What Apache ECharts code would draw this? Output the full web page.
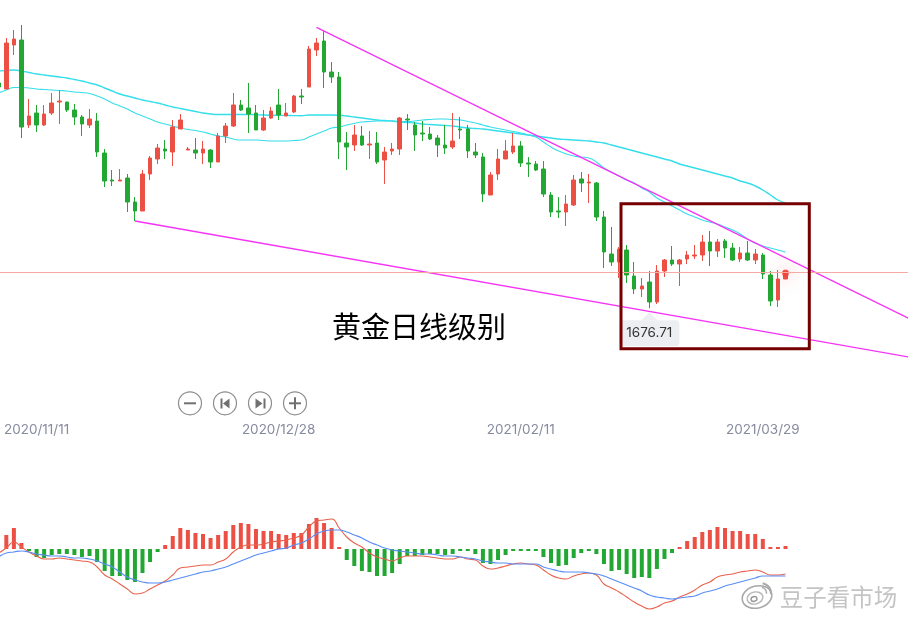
<!DOCTYPE html>
<html><head><meta charset="utf-8">
<style>html,body{margin:0;padding:0;background:#fff}#c{width:908px;height:617px}</style>
<script src="https://cdn.jsdelivr.net/npm/echarts@6/dist/echarts.min.js"></script>
</head><body><div id="c"></div>
<script>
const opens=[1902,1896,1940,1945,1860,1872,1860,1872,1883,1883,1875,1868,1860,1864,1832,1805,1804,1807,1783,1774,1811,1826,1836,1833,1856,1835,1835,1832,1835,1823,1849,1859,1880,1877,1872,1855,1867,1880,1869,1873,1889,1898,1935,1944,1913,1908,1842,1840,1849,1840,1842,1825,1834,1836,1866,1860,1852,1851,1847,1840,1838,1856,1856,1833,1828,1790,1811,1826,1833,1839,1822,1821,1816,1790,1774,1773,1780,1806,1802,1802,1768,1731,1723,1735,1709,1696,1703,1683,1714,1725,1721,1726,1729,1730,1743,1734,1744,1737,1726,1732,1725,1730,1710,1685,1706];
const closes=[1898,1942,1946,1858,1869,1860,1871,1882,1884,1875,1868,1861,1866,1833,1804,1804,1805,1783,1774,1811,1827,1837,1834,1858,1865,1836,1832,1836,1823,1849,1859,1880,1875,1871,1855,1867,1874,1870,1872,1889,1888,1936,1942,1913,1908,1843,1838,1850,1840,1841,1823,1833,1836,1867,1865,1850,1851,1846,1840,1837,1844,1855,1834,1830,1791,1810,1826,1834,1839,1822,1821,1815,1791,1773,1773,1781,1805,1802,1803,1768,1733,1723,1736,1710,1696,1699,1683,1714,1725,1721,1725,1730,1730,1743,1734,1743,1737,1725,1732,1725,1731,1711,1684,1706,1714];
const lows=[1895,1896,1930,1847,1857,1853,1859,1870,1861,1873,1860,1849,1857,1828,1798,1799,1804,1773,1764,1774,1805,1821,1826,1819,1856,1835,1826,1821,1817,1823,1842,1858,1874,1852,1855,1854,1866,1865,1869,1872,1881,1898,1929,1897,1902,1826,1815,1834,1839,1826,1821,1801,1830,1830,1855,1834,1844,1845,1828,1831,1836,1846,1827,1827,1783,1790,1805,1826,1831,1818,1808,1814,1788,1768,1767,1759,1779,1793,1782,1764,1717,1719,1707,1702,1691,1688,1676.71,1681,1708,1719,1699,1721,1726,1724,1719,1728,1727,1724,1723,1724,1721,1706,1679,1678,1706];
const highs=[1905,1947,1955,1960,1886,1880,1880,1892,1895,1883,1881,1870,1876,1872,1836,1815,1816,1811,1788,1815,1829,1841,1845,1865,1871,1838,1847,1844,1836,1852,1862,1892,1885,1902,1880,1875,1878,1896,1882,1890,1896,1939,1947,1954,1923,1913,1853,1860,1859,1854,1853,1838,1842,1868,1871,1863,1864,1858,1850,1860,1872,1868,1860,1842,1832,1813,1836,1845,1852,1844,1828,1824,1824,1793,1788,1790,1810,1813,1811,1803,1774,1758,1738,1740,1723,1707,1714,1720,1726,1739,1726,1734,1740,1750,1754,1746,1746,1742,1738,1744,1736,1732,1714,1715,1714];
const maSlow=[1914,1914.5,1915,1914,1912.5,1911,1910,1909,1908,1907,1905.5,1904,1902,1900,1897,1894,1891,1889,1887,1885,1883.5,1882,1880,1878,1876.5,1875,1873.5,1872,1871,1870.5,1870.5,1870.5,1870.5,1870.4,1870.3,1870,1869.8,1869.7,1869.6,1869.4,1869.3,1870,1870,1870,1870,1869.7,1869,1868,1867,1866,1865,1864.5,1864,1863,1862.5,1862,1861,1860.5,1860,1859.5,1859,1858,1857,1856.5,1856,1855,1854,1853,1852,1851,1850,1849,1848,1847,1846,1845.5,1845,1844.5,1844,1843,1842,1840,1838,1836,1834,1832,1830,1828,1826,1824,1821,1819,1817,1815,1813,1811,1809,1807,1804,1802,1799,1795,1790,1785,1782];
const maFast=[1892,1895,1897.5,1897.5,1897,1896,1895.5,1895,1894.5,1894,1893,1892.5,1891.5,1889,1886,1882,1879,1876,1872,1869,1866,1863,1861,1859,1857,1855.5,1854.5,1853,1851,1849,1848,1846,1845,1845,1845,1844.5,1844,1844,1844,1844.5,1845,1848,1851,1854,1857,1858,1860,1861.5,1863,1863.5,1864,1864,1864,1863.5,1863.5,1864,1865,1865.5,1866,1866,1865.5,1865,1863.5,1862,1860,1858,1856.5,1855,1853.5,1852,1850,1848,1843,1838,1834,1831,1829,1828,1827,1823,1817,1813,1809,1805,1802,1797,1793,1787,1783,1779,1775,1771,1768,1765,1763,1761,1758,1755,1751,1746,1742,1739,1737,1735,1733];
const macdHist=[null,7,10.5,3,-1,-4,-4.5,-3,-2.5,-2.5,-3,-4,-3.5,-6.5,-11,-13.5,-13.5,-15.5,-16.5,-12,-6.5,-1.5,2,6.5,10.5,9.5,8,7.5,5.5,7,9,12,13,12.5,10,9,9,7.5,7,8,8,12.5,15.5,13,10.5,1,-5.5,-8.5,-11,-11.5,-13.5,-13.5,-12,-7.5,-3.5,-3.5,-3,-2.5,-2.5,-3,-2.5,-1,-1,-2.5,-7,-7.5,-5.5,-3,-1,-1,-1,-1,-4,-7,-8.5,-8,-4.5,-2,-1,-2.5,-7.5,-11,-10.5,-12.5,-14.5,-14,-14.5,-10,-5,-2,1,4,6,8.5,9.5,11,10.5,9,9,7.5,7.5,5,1,1,1.5];
const macdDif=[-2,.5,3.5,1,-1.5,-3.5,-5,-5,-4.5,-5,-5.5,-6,-6.5,-9,-13,-15,-17.5,-20,-22.5,-22,-20,-18,-16,-13,-9.5,-9,-8.5,-8,-8,-6.5,-5,-1.5,1,2,2,2.5,3.5,4,4.5,5.5,7,11,14,14.5,15,10.5,6,3,1,-2,-4,-5,-6,-4.5,-3.5,-3.5,-3.5,-4,-4.5,-5,-5,-4,-5,-5.5,-8.5,-10,-9.5,-8.5,-7.5,-7,-7.5,-8,-10.5,-13,-14.5,-15,-13.5,-12.5,-12,-13,-17.5,-19.5,-21.5,-24,-26.5,-28.5,-30,-29,-27,-26,-24,-22.5,-20.5,-18,-16.5,-14,-13,-12.5,-11.5,-11,-10.5,-11.5,-13,-13,-12.5];
const macdDea=[-4,-2,-1.5,-1,-1.5,-2.5,-3,-3.5,-3.5,-4,-4.5,-4.5,-5,-6,-7.5,-9,-11.5,-14,-15.5,-16.5,-17,-17,-16.5,-15.5,-14.5,-13.5,-12.5,-11.5,-11,-10,-9,-7.5,-6,-4.5,-3,-2,-1,0,.5,2,3,5,7.5,9,9.5,9.5,8.5,7,5.5,3.5,2,.5,-.5,-1,-1.5,-2,-2.5,-2.5,-3,-3.5,-3.5,-4,-4.5,-5,-6,-6.5,-7,-7,-7.5,-7.5,-7.5,-7.5,-9,-10,-11,-11.5,-11.5,-11.5,-12,-12.5,-13.5,-15,-16.5,-18,-19.5,-21,-23,-24,-24.5,-25,-24.5,-24,-23.5,-22,-21,-20,-18.5,-17.5,-16.5,-15.5,-14.5,-13.5,-13.5,-13.5,-13.5];
const tickIndex=[5,37,69,101];
const tickLabels=['2020/11/11','2020/12/28','2021/02/11','2021/03/29'];
const trendUpper=[[42,1957.7],[121,1664]];
const trendLower=[[18,1764],[121,1627]];
const lastPrice=1713;
const lowIndex=86, lowValue=1676.71;
const slotCount=122;

const RED='#ec5044',GREEN='#22a733',TICK='#868b9f',MAGENTA='#f632f6',CYAN='#35deea';
const slots=Array.from({length:slotCount},(_,i)=>String(i));
const candles=opens.map((o,i)=>[o,closes[i],lows[i],highs[i]]);
const gridL=-5.03,gridW=7.565*slotCount;
const chart=echarts.init(document.getElementById('c'),null,{renderer:'canvas'});

const circle=(cx)=>({type:'circle',shape:{cx,cy:403.3,r:11.5},style:{fill:'#fff',stroke:'#8f8f8f',lineWidth:1.2},z:5});
const bar=(x,y,w,h)=>({type:'rect',shape:{x,y,width:w,height:h},style:{fill:'#707070'},z:6});
const tri=(pts)=>({type:'polygon',shape:{points:pts},style:{fill:'#707070'},z:6});
const ring=(cx,cy,rx,ry,c,lw)=>({type:'ellipse',shape:{cx,cy,rx,ry},rotation:0.25,originX:cx,originY:cy,style:{fill:'none',stroke:c,lineWidth:lw},z:8});

chart.setOption({
  animation:false,backgroundColor:'#fff',
  grid:[{left:gridL,top:0,width:gridW,height:415,outerBoundsMode:'none'},{left:gridL,top:500,width:gridW,height:110,outerBoundsMode:'none'}],
  xAxis:[
    {type:'category',gridIndex:0,data:slots,boundaryGap:true,axisLine:{show:false},axisTick:{show:false},splitLine:{show:false},
     axisLabel:{interval:0,hideOverlap:false,margin:8,color:TICK,fontFamily:'Inter',fontSize:13.5,
       formatter:(v,i)=>{const k=tickIndex.indexOf(i);return k>=0?tickLabels[k]:'';}}},
    {type:'category',gridIndex:1,data:slots,boundaryGap:true,axisLine:{show:false},axisTick:{show:false},axisLabel:{show:false},splitLine:{show:false}}
  ],
  yAxis:[
    {type:'value',gridIndex:0,min:1570,max:1985,show:false,splitLine:{show:false}},
    {type:'value',gridIndex:1,min:-30.5,max:24.5,show:false,splitLine:{show:false}}
  ],
  series:[
    {type:'line',name:'MA slow',data:maSlow,smooth:0.5,showSymbol:false,symbol:'none',lineStyle:{color:CYAN,width:1.4},z:2},
    {type:'line',name:'MA fast',data:maFast,smooth:0.5,showSymbol:false,symbol:'none',lineStyle:{color:CYAN,width:1.1},z:2},
    {type:'candlestick',name:'K',data:candles,barWidth:4,
      itemStyle:{color:RED,color0:GREEN,borderColor:RED,borderColor0:GREEN,borderWidth:1},z:3,
      markLine:{silent:true,symbol:'none',animation:false,label:{show:false},lineStyle:{color:'#f6aaa2',width:1,type:'solid'},data:[{yAxis:lastPrice}]},
      markPoint:{silent:true,animation:false,data:[{coord:[lowIndex,lowValue],value:lowValue,symbol:'triangle',symbolSize:[16,8],symbolOffset:[0,8],
        itemStyle:{color:'#eceef1'},
        label:{show:true,position:'bottom',distance:0,formatter:String(lowValue),fontFamily:'Inter',fontSize:13.5,color:'#333',backgroundColor:'#eceef1',padding:[6,7],borderRadius:4}}]}},
    {type:'line',name:'trend upper',data:trendUpper,symbol:'none',lineStyle:{color:MAGENTA,width:1.3},z:4,clip:true},
    {type:'line',name:'trend lower',data:trendLower,symbol:'none',lineStyle:{color:MAGENTA,width:1.3},z:4,clip:true},
    {type:'scatter',name:'last',data:[[opens.length-1,lastPrice-1]],symbolSize:7,silent:true,itemStyle:{color:'#f2453a',shadowBlur:18,shadowColor:'rgba(240,50,40,0.85)'},z:3},
    {type:'bar',name:'MACD',xAxisIndex:1,yAxisIndex:1,data:macdHist,barWidth:4,
      itemStyle:{color:(p)=>p.value>=0?RED:GREEN}},
    {type:'line',name:'DIF',xAxisIndex:1,yAxisIndex:1,data:macdDif,smooth:0.5,symbol:'none',lineStyle:{color:'#e8614c',width:1.1},z:4},
    {type:'line',name:'DEA',xAxisIndex:1,yAxisIndex:1,data:macdDea,smooth:0.5,symbol:'none',lineStyle:{color:'#5a8ef5',width:1.2},z:4}
  ],
  graphic:{elements:[
    {type:'rect',shape:{x:621,y:203.7,width:188.3,height:145},style:{fill:'none',stroke:'#760000',lineWidth:3},z:20},
    {type:'text',x:419,y:327,style:{text:'黄金日线级别',font:'29px "Noto Sans CJK SC"',fill:'#000',align:'center',verticalAlign:'middle'},z:20},
    circle(190),bar(184,402.3,12,2),
    circle(225),bar(220.5,398.5,2,10),tri([[229.5,398.5],[229.5,408.5],[223,403.5]]),
    circle(260),bar(263.5,398.5,2,10),tri([[255.5,398.5],[255.5,408.5],[262.5,403.5]]),
    circle(295),bar(289,402.3,12,2),bar(294,397.3,2,12),
    ring(757,597,15,11,'#a8a8a8',1.6),ring(755,598,8,6,'#b5b5b5',1.4),ring(754,599,3,2.3,'#999',1.4),
    {type:'arc',shape:{cx:761,cy:593,r:10,startAngle:-1.4,endAngle:0.1,clockwise:true},style:{fill:'none',stroke:'#a8a8a8',lineWidth:2},z:8},
    {type:'arc',shape:{cx:761,cy:593,r:5.5,startAngle:-1.4,endAngle:0.1,clockwise:true},style:{fill:'none',stroke:'#a8a8a8',lineWidth:1.6},z:8},
    {type:'text',x:838.5,y:597,style:{text:'豆子看市场',font:'23.5px "Noto Sans CJK SC"',fill:'#c4c4c4',align:'center',verticalAlign:'middle',shadowBlur:3,shadowColor:'#9a9a9a',shadowOffsetX:1,shadowOffsetY:1},z:8}
  ]}
});
</script></body></html>
